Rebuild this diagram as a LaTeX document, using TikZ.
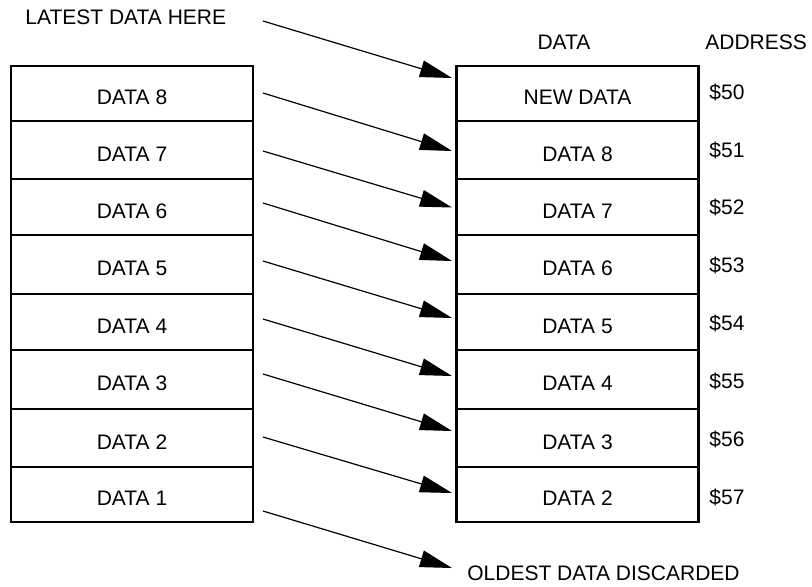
\documentclass[tikz,border=0pt]{standalone}
\usepackage{fontspec}
\setmainfont{Liberation Sans}
\usetikzlibrary{arrows.meta}
\begin{document}
\begin{tikzpicture}[x=0.5pt,y=-0.5pt,
  cell/.style={draw,line width=1.25pt,minimum width=121pt,inner sep=0pt,font=\fontsize{10.5}{12}\selectfont},
  lbl/.style={inner sep=0pt,font=\fontsize{10.5}{12}\selectfont},
  flow/.style={line width=0.6pt,-{Triangle[length=16pt,width=8.5pt]}}]
\useasboundingbox (0,0) rectangle (812,586);
% rows
\foreach \i/\t/\b/\l/\r in {1/66/121/DATA 8/NEW DATA, 2/121/179/DATA 7/DATA 8, 3/179/235/DATA 6/DATA 7, 4/235/294/DATA 5/DATA 6, 5/294/350/DATA 4/DATA 5, 6/350/409/DATA 3/DATA 4, 7/409/467/DATA 2/DATA 3, 8/467/522/DATA 1/DATA 2}{
  \pgfmathsetmacro\c{(\t+\b)/2}
  \pgfmathsetmacro\h{(\b-\t)/2}
  \node[cell,minimum height=\h pt] (L\i) at (132,\c) {\raisebox{-2pt}[\height][\depth]{\l}};
  \node[cell,minimum height=\h pt] (R\i) at (577.5,\c) {\raisebox{-2pt}[\height][\depth]{\r}};
}
% addresses
\foreach \i/\y/\a in {1/92/50, 2/150/51, 3/207/52, 4/265/53, 5/323/54, 6/381/55, 7/439/56, 8/497/57}{
  \node[lbl,anchor=base west] (A\i) at (709,\y+7.5) {\$\a};
}
% headers
\node[lbl,anchor=base] (hdata) at (564,49.5) {DATA};
\node[lbl,anchor=base west] (haddr) at (705,49.5) {ADDRESS};
\node[lbl,anchor=base west] (latest) at (25,24.5) {LATEST DATA HERE};
\node[lbl,anchor=base west] (oldest) at (467,580.5) {OLDEST DATA DISCARDED};
% arrows
\foreach \k/\sy/\ey in {0/21/78, 1/93/151, 2/151/207.5, 3/203/261, 4/261/318, 5/319/376, 6/374/431, 7/437/493, 8/511/568}{
  \coordinate (s\k) at (263,\sy);
  \coordinate (e\k) at (452,\ey);
  \draw[flow] (s\k) -- (e\k);
}
\end{tikzpicture}
\end{document}
